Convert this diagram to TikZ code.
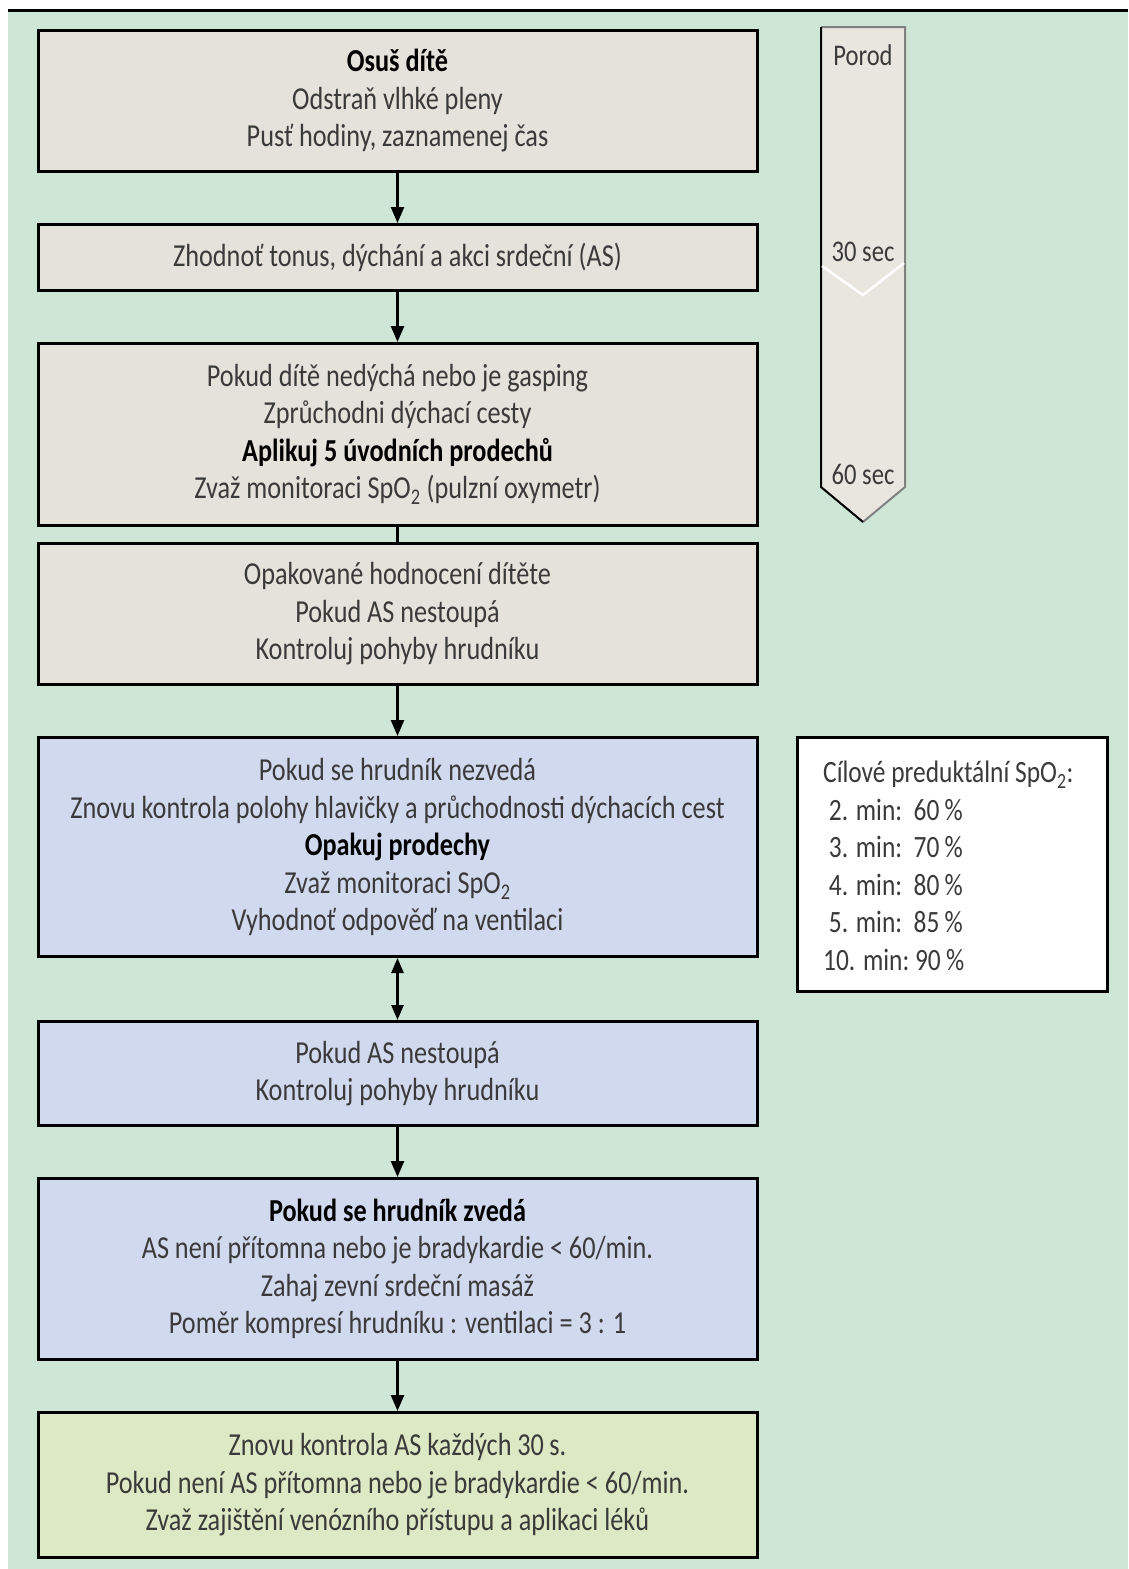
\documentclass[tikz,border=0pt]{standalone}
\usepackage{fontspec}
\setmainfont[FakeStretch=0.82]{Carlito}
\usetikzlibrary{arrows.meta}
\definecolor{bggreen}{HTML}{CDE6D6}
\definecolor{beige}{HTML}{E5E1DB}
\definecolor{bluebox}{HTML}{D1D9EE}
\definecolor{yellowbox}{HTML}{DDE9C4}
\definecolor{tlfill}{HTML}{E9E6E0}
\definecolor{txt}{HTML}{3A3A3A}
\tikzset{
  box/.style={draw=black, line width=3pt, inner sep=0pt, minimum width=719pt, align=center,
    text=txt, font=\fontsize{32}{37.5}\selectfont},
  conn/.style={line width=2.5pt, -{Triangle[length=16pt,width=13pt]}},
  dconn/.style={line width=2.5pt, {Triangle[length=15pt,width=12pt]}-{Triangle[length=15pt,width=12pt]}},
  tltext/.style={text=txt, font=\fontsize{30}{32}\selectfont, inner sep=0pt},
}
\newcommand{\hb}[1]{\textcolor{black}{\textbf{#1}}}
\begin{document}
\begin{tikzpicture}[x=1pt,y=-1pt]
\useasboundingbox (0,0) rectangle (1128,1569);
\fill[white] (0,0) rectangle (1128,1569);
\fill[bggreen] (8,12) rectangle (1128,1569);
\draw[line width=3pt] (8,10.5) -- (1128,10.5);

\node[box, fill=beige, minimum height=141pt] (b1) at (397.5,101)
 {\hb{Osuš dítě}\\Odstraň vlhké pleny\\Pusť hodiny, zaznamenej čas};
\node[box, fill=beige, minimum height=66pt] (b2) at (397.5,257.5)
 {Zhodnoť tonus, dýchání a akci srdeční (AS)};
\node[box, fill=beige, minimum height=182pt] (b3) at (397.5,434.5)
 {Pokud dítě nedýchá nebo je gasping\\Zprůchodni dýchací cesty\\\hb{Aplikuj 5 úvodních prodechů}\\Zvaž monitoraci SpO\textsubscript{2} (pulzní oxymetr)};
\node[box, fill=beige, minimum height=141pt] (b4) at (397.5,614)
 {Opakované hodnocení dítěte\\Pokud AS nestoupá\\Kontroluj pohyby hrudníku};
\node[box, fill=bluebox, minimum height=219pt] (b5) at (397.5,847)
 {Pokud se hrudník nezvedá\\Znovu kontrola polohy hlavičky a průchodnosti dýchacích cest\\\hb{Opakuj prodechy}\\Zvaž monitoraci SpO\textsubscript{2}\\Vyhodnoť odpověď na ventilaci};
\node[box, fill=bluebox, minimum height=104pt] (b6) at (397.5,1073.5)
 {Pokud AS nestoupá\\Kontroluj pohyby hrudníku};
\node[box, fill=bluebox, minimum height=181pt] (b7) at (397.5,1269)
 {\hb{Pokud se hrudník zvedá}\\AS není přítomna nebo je bradykardie < 60/min.\\Zahaj zevní srdeční masáž\\Poměr kompresí hrudníku : ventilaci = 3 : 1};
\node[box, fill=yellowbox, minimum height=145pt] (b8) at (397.5,1485)
 {Znovu kontrola AS každých 30\,s.\\Pokud není AS přítomna nebo je bradykardie < 60/min.\\Zvaž zajištění venózního přístupu a aplikaci léků};

\draw[conn] (b1) -- (b2);
\draw[conn] (b2) -- (b3);
\draw[line width=2.5pt] (b3) -- (b4);
\draw[conn] (b4) -- (b5);
\draw[dconn] (b5) -- (b6);
\draw[conn] (b6) -- (b7);
\draw[conn] (b7) -- (b8);

% timeline
\fill[tlfill] (821,27) -- (905,27) -- (905,487) -- (863,522) -- (821,487) -- cycle;
\draw[line width=2pt, gray] (821,27) -- (905,27) -- (905,487) -- (863,522);
\draw[line width=2pt, black] (821,27) -- (821,487) -- (863,522);
\draw[white, line width=2.5pt] (822,266) -- (863,295) -- (904,263);
\node[tltext] (tl0) at (863,55) {Porod};
\node[tltext] (tl30) at (863,252) {30 sec};
\node[tltext] (tl60) at (863,474) {60 sec};

% SpO2 box
\node[draw=black, line width=3.5pt, fill=white, minimum width=310pt, minimum height=254pt, inner sep=0pt] (spo) at (952.5,864.5) {};
\node[anchor=north west, inner sep=0pt, align=left, text=txt, font=\fontsize{31}{37.5}\selectfont] (spot) at (823,761)
 {Cílové preduktální SpO\textsubscript{2}:\\
 \ 2. min:\ \ 60\,\%\\
 \ 3. min:\ \ 70\,\%\\
 \ 4. min:\ \ 80\,\%\\
 \ 5. min:\ \ 85\,\%\\
 10. min:\ 90\,\%};
\end{tikzpicture}
\end{document}
